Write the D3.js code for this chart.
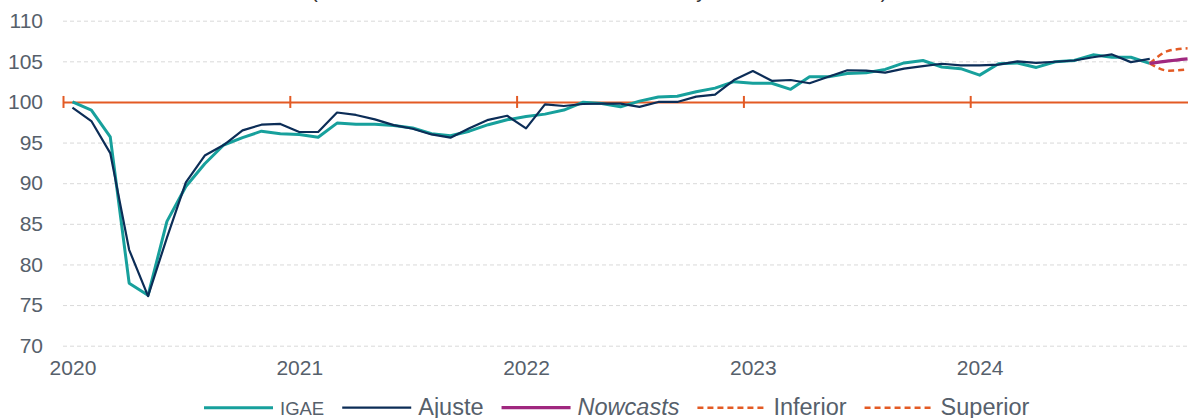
<!DOCTYPE html>
<html lang="es">
<head>
<meta charset="UTF-8">
<title>IGAE y nowcasts</title>
<script src="https://d3js.org/d3.v7.min.js"></script>
<style>
  body { margin: 0; background: #fff; }
  svg { display: block; font-family: "Liberation Sans", Arial, sans-serif; }
  .axis text { fill: #56606b; font-size: 21px; }
  .grid line { stroke: #d9d9d9; stroke-dasharray: 4,3; }
  .legend text { fill: #56606b; }
</style>
</head>
<body>
<svg width="1188" height="418"></svg>
<script>
// --- data (monthly, Jan 2020 = index 0) ---
var years = [2020, 2021, 2022, 2023, 2024];
var yTicks = [70, 75, 80, 85, 90, 95, 100, 105, 110];

var igae = [100.0, 99.0, 95.7, 77.7, 76.2, 85.3, 89.6, 92.4, 94.7, 95.6, 96.4, 96.1,
            96.0, 95.65, 97.4, 97.25, 97.25, 97.1, 96.8, 96.1, 95.85, 96.4, 97.2, 97.8,
            98.2, 98.5, 99.0, 99.95, 99.8, 99.4, 100.1, 100.6, 100.7, 101.25, 101.7, 102.5,
            102.3, 102.3, 101.55, 103.1, 103.1, 103.5, 103.6, 104.0, 104.8, 105.1, 104.3, 104.1,
            103.3, 104.7, 104.8, 104.25, 104.95, 105.1, 105.8, 105.5, 105.5, 104.75];

var ajuste = [99.3, 97.65, 93.7, 81.8, 76.1, 83.3, 90.1, 93.4, 94.7, 96.5, 97.2, 97.3,
              96.3, 96.3, 98.7, 98.4, 97.85, 97.15, 96.7, 96.0, 95.6, 96.75, 97.8, 98.3,
              96.75, 99.7, 99.5, 99.75, 99.8, 99.8, 99.4, 100.0, 100.0, 100.65, 100.9, 102.7,
              103.8, 102.6, 102.7, 102.3, 103.1, 103.9, 103.85, 103.6, 104.1, 104.4, 104.7, 104.5,
              104.5, 104.6, 105.0, 104.8, 104.95, 105.1, 105.5, 105.85, 104.9, 105.3];

// nowcasts start at Oct 2024 (index 57)
var nowStart = 57;
var nowcasts = [104.75, 105.05, 105.3];
var inferior = [104.75, 103.85, 104.0];
var superior = [104.75, 106.3, 106.6];

var legendNames = ["IGAE", "Ajuste", "Nowcasts", "Inferior", "Superior"];
var titleText = "(Índice 2020=100 serie desestacionalizada y nowcasts del IGAE)";

// --- chart ---
var svg = d3.select("svg");
var left = 63, monthW = 18.9, nMonths = years.length * 12;

var x = d3.scaleLinear().domain([0, nMonths]).range([left, left + nMonths * monthW]);
var y = d3.scaleLinear().domain([70, 110]).range([345.7, 20.7]);
var right = x(nMonths);
var mx = function(i) { return x(i + 0.5); };

var cTeal = "#17a09c", cNavy = "#0c2d57", cPurple = "#a0287f", cOrange = "#e35a24";

// clipped title
svg.append("text")
    .attr("x", 311).attr("y", -2)
    .attr("font-size", 20)
    .attr("fill", "#333")
    .text(titleText);

// gridlines
svg.append("g")
    .attr("class", "grid")
    .attr("transform", "translate(" + left + ",0)")
    .call(d3.axisLeft(y).tickValues(yTicks).tickSize(-(right - left)).tickFormat(""))
    .call(function(g) { g.select(".domain").remove(); });

// y axis labels
svg.append("g")
    .attr("class", "axis")
    .attr("transform", "translate(" + left + ",0)")
    .call(d3.axisLeft(y).tickValues(yTicks).tickSize(0).tickPadding(20))
    .call(function(g) { g.select(".domain").remove(); })
    .selectAll("text").attr("font-family", null).attr("font-size", null);

// x axis labels (January of each year)
svg.append("g")
    .attr("class", "axis")
    .attr("transform", "translate(0," + y(70) + ")")
    .call(d3.axisBottom(x)
        .tickValues(years.map(function(d, k) { return k * 12 + 0.5; }))
        .tickFormat(function(d) { return years[Math.floor(d / 12)]; })
        .tickSize(0).tickPadding(14.4))
    .call(function(g) { g.select(".domain").remove(); })
    .selectAll("text").attr("font-family", null).attr("font-size", null);

// orange axis crossing at 100
var ax = svg.append("g")
    .attr("transform", "translate(0," + y(100) + ")")
    .call(d3.axisBottom(x)
        .tickValues(d3.range(0, nMonths + 1, 12))
        .tickSize(6).tickSizeOuter(0).tickFormat(""));
ax.select(".domain").attr("stroke", cOrange).attr("stroke-width", 2);
ax.selectAll(".tick line").attr("stroke", cOrange).attr("stroke-width", 2).attr("y1", -6);

// series
var line = d3.line().x(function(d, i) { return mx(i); }).y(function(d) { return y(d); });
var fLine = d3.line()
    .x(function(d, i) { return mx(nowStart + i); })
    .y(function(d) { return y(d); })
    .curve(d3.curveMonotoneX);

svg.append("path").datum(igae)
    .attr("fill", "none").attr("stroke", cTeal).attr("stroke-width", 3)
    .attr("stroke-linejoin", "round").attr("d", line);

svg.append("path").datum(ajuste)
    .attr("fill", "none").attr("stroke", cNavy).attr("stroke-width", 2.2)
    .attr("stroke-linejoin", "round").attr("d", line);

[inferior, superior].forEach(function(s) {
    svg.append("path").datum(s)
        .attr("fill", "none").attr("stroke", cOrange).attr("stroke-width", 2.5)
        .attr("stroke-dasharray", "6,4").attr("d", fLine);
});

svg.append("path").datum(nowcasts)
    .attr("fill", "none").attr("stroke", cPurple).attr("stroke-width", 3.2)
    .attr("d", fLine);

// legend
var legendStyle = [
    { color: cTeal, width: 3, dash: null, size: 18.5, italic: false },
    { color: cNavy, width: 2.2, dash: null, size: 23.5, italic: false },
    { color: cPurple, width: 3.2, dash: null, size: 23.5, italic: true },
    { color: cOrange, width: 2.5, dash: "6,4", size: 23.5, italic: false },
    { color: cOrange, width: 2.5, dash: "6,4", size: 23.5, italic: false }
];
var lg = svg.append("g").attr("class", "legend");
var lx = 204, ly = 407.7;
legendNames.forEach(function(name, k) {
    var st = legendStyle[k];
    lg.append("line")
        .attr("x1", lx).attr("x2", lx + 69).attr("y1", ly).attr("y2", ly)
        .attr("stroke", st.color).attr("stroke-width", st.width)
        .attr("stroke-dasharray", st.dash);
    var t = lg.append("text")
        .attr("x", lx + 76).attr("y", ly + 7.5)
        .attr("font-size", st.size)
        .attr("font-style", st.italic ? "italic" : null)
        .text(name);
    lx += 76 + t.node().getComputedTextLength() + 18;
});
</script>
</body>
</html>
